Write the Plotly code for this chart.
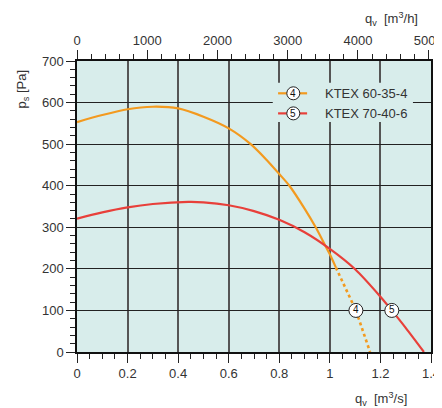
import plotly.graph_objects as go

# KTEX 60-35-4 (orange), solid part and dotted extension
o_x = [0, 0.1, 0.2, 0.3, 0.4, 0.5, 0.6, 0.687, 0.75, 0.8, 0.84, 0.9, 0.944, 0.981, 1.0, 1.024]
o_y = [553, 570, 584, 590, 586, 566, 538, 500, 462, 428, 400, 345, 300, 257, 235, 203]
od_x = [1.024, 1.103, 1.159]
od_y = [203, 100, 0]
# KTEX 70-40-6 (red)
r_x = [0, 0.1, 0.2, 0.3, 0.44, 0.5, 0.6, 0.7, 0.8, 0.9, 1.0, 1.1, 1.2, 1.245, 1.3, 1.372]
r_y = [321, 336, 348, 356, 361, 360, 353, 339, 318, 288, 248, 199, 133, 100, 58, 0]
# curve number labels
lab_x = [1.103, 1.245]
lab_y = [100, 100]
lab_t = ["4", "5"]
names = ["KTEX 60-35-4", "KTEX 70-40-6"]
colors = ["#f39a1f", "#e8403a"]
top_ticks = [0, 1000, 2000, 3000, 4000, 5000]

BG = "#d8edeb"
TXT = "#333333"
FONT = "Liberation Sans, Arial, sans-serif"

fig = go.Figure()
fig.add_trace(go.Scatter(x=o_x, y=o_y, mode="lines", line=dict(color=colors[0], width=2.2, shape="spline", smoothing=0.8), hoverinfo="skip"))
fig.add_trace(go.Scatter(x=od_x, y=od_y, mode="lines", line=dict(color=colors[0], width=2.6, dash="dot"), hoverinfo="skip"))
fig.add_trace(go.Scatter(x=r_x, y=r_y, mode="lines", line=dict(color=colors[1], width=2.2, shape="spline", smoothing=0.8), hoverinfo="skip"))
fig.add_trace(go.Scatter(x=lab_x, y=lab_y, mode="markers+text", text=lab_t, textposition="middle center",
                         textfont=dict(size=10, color="#111", family=FONT),
                         marker=dict(size=14, color="white", line=dict(color="#222", width=1)), hoverinfo="skip"))
# dummy trace for top axis
fig.add_trace(go.Scatter(x=[0, 5040], y=[None, None], xaxis="x2", mode="lines", hoverinfo="skip"))

# page body has an 8px margin, so the figure is sized/offset to compensate
fig.update_layout(
    width=434, height=400, margin=dict(l=69, r=11, t=53, b=56, autoexpand=False),
    paper_bgcolor="white", plot_bgcolor=BG, showlegend=False,
    font=dict(family=FONT, size=12, color=TXT),
    xaxis=dict(range=[0, 1.4], tickvals=[0, 0.2, 0.4, 0.6, 0.8, 1, 1.2, 1.4], automargin=False,
               ticktext=["0", "0.2", "0.4", "0.6", "0.8", "1", "1.2", "1.4"], ticklabeloverflow="allow",
               ticks="outside", ticklen=9, tickcolor="#222", tickwidth=1.2,
               showline=True, linecolor="#111", linewidth=1.5,
               showgrid=True, gridcolor="#555", gridwidth=1.6, zeroline=False,
               minor=dict(dtick=0.05, ticks="outside", ticklen=5, tickcolor="#222", showgrid=False),
               tickfont=dict(size=13, color=TXT)),
    xaxis2=dict(overlaying="x", side="top", range=[0, 5040], tickvals=top_ticks, automargin=False,
                ticklabeloverflow="allow",
                ticks="outside", ticklen=9, tickcolor="#222", tickwidth=1.2,
                showline=True, linecolor="#111", linewidth=1.5, showgrid=False, zeroline=False,
                minor=dict(dtick=200, ticks="outside", ticklen=5, tickcolor="#222", showgrid=False),
                tickfont=dict(size=13, color=TXT)),
    yaxis=dict(range=[0, 700], dtick=100, ticks="outside", ticklen=9, tickcolor="#222", tickwidth=1.2,
               automargin=False,
               showline=True, linecolor="#111", linewidth=1.5, mirror=True,
               showgrid=True, gridcolor="#222", gridwidth=1.2, zeroline=False,
               minor=dict(dtick=20, ticks="outside", ticklen=5, tickcolor="#222", showgrid=False),
               tickfont=dict(size=13, color=TXT)),
)

# legend box
fig.add_shape(type="rect", xref="paper", yref="paper", x0=0.553, x1=0.949, y0=0.79, y1=0.925,
              fillcolor=BG, line=dict(width=0), layer="above")
for i, (nm, col) in enumerate(zip(names, colors)):
    yy = 0.889 - i * 0.069
    fig.add_shape(type="line", xref="paper", yref="paper", x0=0.568, x1=0.650, y0=yy, y1=yy,
                  line=dict(color=col, width=2.2), layer="above")
    fig.add_shape(type="circle", xref="paper", yref="paper", xsizemode="pixel", ysizemode="pixel",
                  xanchor=0.611, yanchor=yy, x0=-6.5, x1=6.5, y0=-6.5, y1=6.5,
                  fillcolor="white", line=dict(color="#222", width=1), layer="above")
    fig.add_annotation(xref="paper", yref="paper", x=0.611, y=yy, text=lab_t[i], showarrow=False,
                       font=dict(size=10, color="#111"), xanchor="center", yanchor="middle")
    fig.add_annotation(xref="paper", yref="paper", x=0.694, y=yy, text=nm, showarrow=False,
                       font=dict(size=13, color=TXT), xanchor="left", yanchor="middle")

# axis titles
fig.add_annotation(xref="paper", yref="paper", x=0.968, y=1.143, text="q<sub>v</sub>  [m<sup>3</sup>/h]",
                   showarrow=False, xanchor="right", yanchor="middle", font=dict(size=13, color=TXT))
fig.add_annotation(xref="paper", yref="paper", x=0.937, y=-0.16, text="q<sub>v</sub>  [m<sup>3</sup>/s]",
                   showarrow=False, xanchor="right", yanchor="middle", font=dict(size=13, color=TXT))
fig.add_annotation(xref="paper", yref="paper", x=-0.153, y=0.905, text="p<sub>s</sub> [Pa]", textangle=-90,
                   showarrow=False, xanchor="center", yanchor="middle", font=dict(size=13, color=TXT))

fig.write_html("out.html")
